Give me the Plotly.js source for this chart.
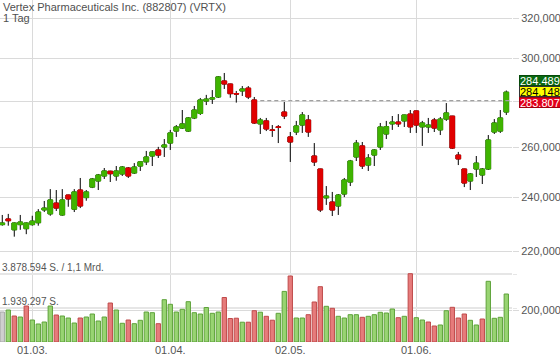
<!DOCTYPE html>
<html><head><meta charset="utf-8">
<script src="https://cdn.plot.ly/plotly-3.0.1.min.js"></script>
<style>html,body{margin:0;padding:0;background:#fff;}#chart{width:560px;height:362px;}</style>
</head><body><div id="chart"></div>
<script>
const dates = [
'2022-02-22','2022-02-23','2022-02-24','2022-02-25','2022-02-28',
'2022-03-01','2022-03-02','2022-03-03','2022-03-04','2022-03-07','2022-03-08','2022-03-09','2022-03-10','2022-03-11','2022-03-14','2022-03-15','2022-03-16','2022-03-17','2022-03-18','2022-03-21','2022-03-22','2022-03-23','2022-03-24','2022-03-25','2022-03-28','2022-03-29','2022-03-30','2022-03-31',
'2022-04-01','2022-04-04','2022-04-05','2022-04-06','2022-04-07','2022-04-08','2022-04-11','2022-04-12','2022-04-13','2022-04-14','2022-04-18','2022-04-19','2022-04-20','2022-04-21','2022-04-22','2022-04-25','2022-04-26','2022-04-27','2022-04-28','2022-04-29',
'2022-05-02','2022-05-03','2022-05-04','2022-05-05','2022-05-06','2022-05-09','2022-05-10','2022-05-11','2022-05-12','2022-05-13','2022-05-16','2022-05-17','2022-05-18','2022-05-19','2022-05-20','2022-05-23','2022-05-24','2022-05-25','2022-05-26','2022-05-27','2022-05-31',
'2022-06-01','2022-06-02','2022-06-03','2022-06-06','2022-06-07','2022-06-08','2022-06-09','2022-06-10','2022-06-13','2022-06-14','2022-06-15','2022-06-16','2022-06-17','2022-06-21','2022-06-22','2022-06-23'];

const openP = [
229.6,231.7,227.7,229.6,228.1,
229.6,230.3,235.1,233.6,237.7,
233.2,240.8,235.4,242.75,239.8,
243.9,246.3,248.3,250.2,248.3,
249.1,251.5,249.5,252.3,254.0,
256.4,258.9,260.15,261.8,266.9,
268.2,266.9,272.6,274.6,280.1,
281.0,281.95,289.3,287.9,283.5,
284.7,286.0,280.6,270.0,271.3,
267.4,268.7,275.2,264.4,266.5,
269.5,271.7,256.4,251.1,239.7,
238.1,236.6,241.2,245.9,256.0,
260.6,252.7,256.8,260.15,265.65,
270.0,270.8,271.3,274.3,275.7,
268.7,268.66,271.7,267.4,272.1,
273.4,256.8,251.1,246.3,251.1,
248.7,251.1,266.5,266.9,275.2];

const highP = [
233.2,233.6,230.4,233.2,230.4,
232.9,235.4,238.5,243.1,242.75,
243.1,240.9,243.1,247.5,242.75,
247.5,249.1,251.5,250.4,252.3,
252.3,251.9,253.5,254.1,258.5,
258.2,260.2,263.5,267.4,269.5,
276.1,273.0,277.9,281.5,282.9,
285.1,291.6,293.05,288.0,284.7,
286.95,286.95,281.95,272.6,272.6,
269.5,269.5,279.7,266.5,271.3,
275.2,273.9,261.8,251.2,244.3,
242.0,241.2,247.5,254.8,263.1,
262.25,257.2,259.3,270.4,271.3,
273.45,274.3,274.0,276.1,275.8,
271.3,272.6,272.6,273.0,279.2,
273.5,258.1,251.2,249.5,256.4,
251.5,265.2,272.1,276.1,284.9];

const lowP = [
229.2,229.2,225.2,227.7,226.1,
229.2,229.2,234.3,232.9,234.7,
232.9,236.3,234.3,235.8,238.6,
243.5,242.75,247.1,245.9,246.4,
248.3,247.5,249.1,250.3,252.7,
252.3,255.6,256.0,258.9,264.4,
267.8,266.5,272.1,273.9,278.3,
278.8,281.5,285.6,281.6,279.4,
282.4,281.0,270.0,265.65,266.9,
264.4,261.8,272.1,253.95,265.2,
266.1,264.4,252.3,234.3,237.0,
232.8,233.2,240.0,244.3,254.35,
251.1,250.3,252.3,258.9,263.5,
267.4,268.66,268.66,266.1,266.1,
260.6,266.1,266.5,265.2,271.3,
259.3,252.7,243.9,242.75,247.9,
245.1,250.7,265.65,266.1,273.9];

const closeP = [
230.2,231.05,230.2,230.57,230.2,
230.9,234.3,235.8,238.9,235.8,
238.9,239.3,242.0,236.6,242.0,
247.1,248.7,250.3,249.2,250.3,
251.9,248.3,251.9,254.0,256.0,
258.1,256.8,261.0,266.1,268.7,
270.0,272.6,276.1,280.6,281.0,
281.5,291.2,287.9,283.45,283.3,
285.6,281.95,270.4,271.7,267.8,
267.2,268.5,273.45,262.25,269.1,
273.9,266.5,253.95,235.1,240.4,
235.06,240.8,246.7,254.35,261.8,
252.3,255.6,258.9,268.66,268.8,
270.8,270.0,273.9,268.7,269.5,
270.4,269.52,268.2,272.1,274.8,
259.7,255.2,245.5,249.1,253.5,
251.1,263.1,270.4,272.6,284.148];

const volume = [
1711000,1825000,1483000,1426000,2053000,
1255000,1027000,1141000,2053000,1540000,
1483000,1369000,1084000,1369000,1426000,
1597000,1198000,1426000,2224000,1825000,
1067000,1255000,1044000,1238000,1711000,
1671000,1044000,2413000,2150000,1711000,
1865000,2299000,1671000,1597000,1968000,
1637000,1711000,2538000,1340000,1357000,
1129000,1129000,1785000,1700000,1466000,
1243000,1637000,2886000,3765000,1369000,
1369000,1557000,2282000,3154000,2036000,
1922000,1466000,1369000,1557000,1557000,
1409000,1466000,1557000,1694000,1654000,
1882000,1386000,1466000,3896000,1386000,
1255000,1141000,913000,970000,1785000,
1979000,1369000,1597000,1238000,970000,
1312000,3462000,1352000,1409000,2738000];

const priceTicks = [200,220,240,260,280,300,320];
const priceTickText = ['200,000','220,000','240,000','260,000','','300,000','320,000'];
const dateTicks = ['2022-03-01','2022-04-01','2022-05-02','2022-06-01'];
const dateTickText = ['01.03.','01.04.','02.05.','01.06.'];
const volTicks = [1939297,3878594];
const volTickText = ['1.939.297 S.','3.878.594 S. / 1,1 Mrd.'];
const quoteLabels = ['284,489','284,148','283,807'];
const refLevel = 280.3;
const refStart = '2022-04-25';
const titleText = 'Vertex Pharmaceuticals Inc. (882807) (VRTX)';
const periodText = '1 Tag';

const GREEN = '#3fb400', RED = '#e00000', GRID = '#dadada', TXT = '#555555';
const bodyHigh = openP.map((o,i)=>Math.max(o, closeP[i]));
const bodyLow = openP.map((o,i)=>Math.min(o, closeP[i]));
const volFill = closeP.map((c,i)=> i===0 ? '#cfcfcf' : (c >= closeP[i-1] ? '#98d472' : '#e67b7b'));
const volLine = closeP.map((c,i)=> i===0 ? '#a8a8a8' : (c >= closeP[i-1] ? '#5ea23a' : '#bf4a4a'));

const wicks = {
  type:'candlestick', x:dates, open:openP, high:highP, low:lowP, close:closeP,
  increasing:{line:{color:'#000',width:1}, fillcolor:'#000'},
  decreasing:{line:{color:'#000',width:1}, fillcolor:'#000'},
  whiskerwidth:0, showlegend:false, hoverinfo:'skip', yaxis:'y'
};
const bodies = {
  type:'candlestick', x:dates, open:openP, high:bodyHigh, low:bodyLow, close:closeP,
  increasing:{line:{color:GREEN,width:1}, fillcolor:GREEN},
  decreasing:{line:{color:RED,width:1}, fillcolor:RED},
  whiskerwidth:0, showlegend:false, hoverinfo:'skip', yaxis:'y'
};
const vol = {
  type:'bar', x:dates, y:volume, yaxis:'y2',
  marker:{color:volFill, line:{color:volLine, width:1}},
  showlegend:false, hoverinfo:'skip'
};

const lastClose = closeP[closeP.length-1];
const boxStyle = [
  {bg:'#0b6a12', fg:'#ffffff', border:'#064a0a', shift:10.7},
  {bg:'#ffff00', fg:'#000000', border:'#333333', shift:0},
  {bg:'#e2001a', fg:'#ffffff', border:'#a00010', shift:-10.7}
];
const annotations = [
  {xref:'paper', yref:'paper', x:0, y:1, xanchor:'left', yanchor:'top', xshift:1, yshift:1,
   text:titleText, showarrow:false, font:{size:11, color:'#505050'}},
  {xref:'paper', yref:'paper', x:0, y:1, xanchor:'left', yanchor:'top', xshift:1, yshift:-9.5,
   text:periodText, showarrow:false, font:{size:11, color:'#505050'}},
];
volTicks.forEach((v,i)=>annotations.push({
  xref:'paper', yref:'y2', x:0, y:v, xanchor:'left', yanchor:'bottom', xshift:0, yshift:-1,
  text:volTickText[i], showarrow:false, font:{size:10, color:TXT}
}));
quoteLabels.forEach((t,i)=>annotations.push({
  xref:'paper', yref:'y', x:1, y:Math.log10(lastClose), xanchor:'left', yanchor:'middle',
  xshift:6.5, yshift:boxStyle[i].shift + 0.7, text:t, showarrow:false,
  bgcolor:boxStyle[i].bg, bordercolor:boxStyle[i].border, borderwidth:1, borderpad:0,
  width:40, height:9, align:'left', font:{size:11, color:boxStyle[i].fg}
}));

const xRange = [-0.38, 84.95];
const layout = {
  width:560, height:362, margin:{l:0, r:48, t:0, b:20},
  paper_bgcolor:'#fff', plot_bgcolor:'#fff',
  font:{family:'Arial, "Liberation Sans", sans-serif', size:11, color:TXT},
  showlegend:false, boxgap:0.22, boxgroupgap:0, bargap:0.28,
  xaxis:{type:'category', range:xRange, tickvals:dateTicks, ticktext:dateTickText,
    showgrid:true, gridcolor:GRID, gridwidth:1, ticks:'', showline:false, zeroline:false,
    rangeslider:{visible:false}, tickfont:{size:11, color:TXT}, automargin:false, fixedrange:true},
  yaxis:{type:'log', range:[Math.log10(190.09), Math.log10(329.56)], side:'right',
    tickvals:priceTicks, ticktext:priceTickText, showgrid:true, gridcolor:GRID, gridwidth:1,
    ticks:'outside', ticklen:6, tickcolor:GRID, showline:false, zeroline:false,
    tickfont:{size:11, color:TXT}, automargin:false, fixedrange:true},
  yaxis2:{overlaying:'y', side:'right', range:[0, 3878594*342/68], tickvals:volTicks,
    showticklabels:false, showgrid:true, gridcolor:'#e6e6e6', gridwidth:2,
    ticks:'outside', ticklen:4, tickcolor:'#e6e6e6', zeroline:false, showline:false,
    automargin:false, fixedrange:true},
  shapes:[{type:'line', xref:'x', yref:'y', x0:dates.indexOf(refStart), x1:xRange[1],
    y0:refLevel, y1:refLevel, line:{color:'#a0a0a0', width:1.3, dash:'4px,3px'}}],
  annotations:annotations
};
Plotly.newPlot('chart', [wicks, bodies, vol], layout, {displayModeBar:false, staticPlot:true});
</script></body></html>
